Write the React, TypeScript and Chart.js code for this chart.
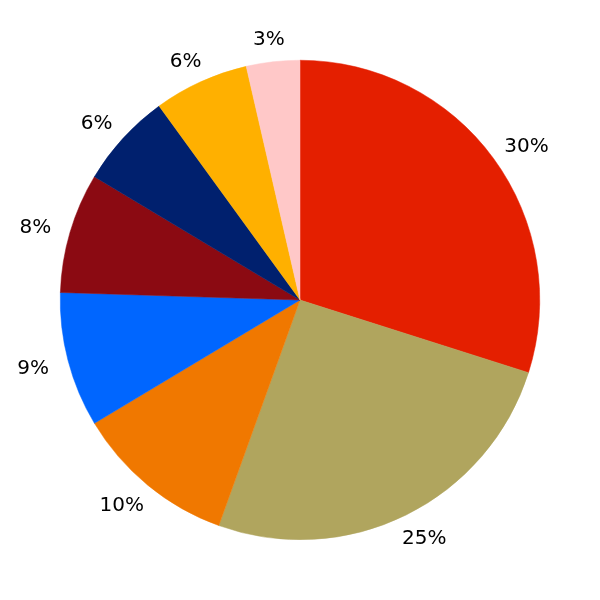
import React, { useEffect, useRef } from "react";
import { Chart, registerables } from "chart.js";

Chart.register(...registerables);

const categories = ["A", "B", "C", "D", "E", "F", "G", "H"];
const shares = [29.9, 25.6, 10.9, 9.1, 8.1, 6.4, 6.4, 3.6];
const labelTexts = ["30%", "25%", "10%", "9%", "8%", "6%", "6%", "3%"];
const colors = [
  "#e41f00",
  "#b0a55e",
  "#f07800",
  "#0066ff",
  "#8b0a12",
  "#00206e",
  "#ffb000",
  "#ffc8c8",
];

const outsideLabels = {
  id: "outsideLabels",
  afterDatasetsDraw(chart: any) {
    const ctx = chart.ctx;
    const meta = chart.getDatasetMeta(0);
    ctx.save();
    ctx.font = '20px "DejaVu Sans"';
    ctx.fillStyle = "#000000";
    ctx.textAlign = "center";
    ctx.textBaseline = "middle";
    meta.data.forEach((arc: any, i: number) => {
      const mid = (arc.startAngle + arc.endAngle) / 2;
      const r = arc.outerRadius * 1.1;
      const text = labelTexts[i];
      const w = ctx.measureText(text).width;
      const cx = arc.x + Math.cos(mid) * r + 0.38 * w * Math.cos(mid);
      const cy = arc.y + Math.sin(mid) * r + 2;
      ctx.fillText(text, cx, cy);
    });
    ctx.restore();
  },
};

export default function App() {
  const ref = useRef<HTMLCanvasElement | null>(null);
  useEffect(() => {
    document.body.style.margin = "0";
    const canvas = ref.current!;
    const chart = new Chart(canvas, {
      type: "pie",
      data: {
        labels: categories,
        datasets: [
          {
            data: shares,
            backgroundColor: colors,
            borderColor: colors,
            borderWidth: 0.5,
          },
        ],
      },
      options: {
        responsive: false,
        animation: false,
        layout: { padding: 60 },
        plugins: {
          legend: { display: false },
          tooltip: { enabled: false },
        },
      },
      plugins: [outsideLabels],
    });
    return () => chart.destroy();
  }, []);
  return (
    <div style={{ width: 600, height: 600, background: "#ffffff" }}>
      <canvas ref={ref} width={600} height={600} />
    </div>
  );
}
